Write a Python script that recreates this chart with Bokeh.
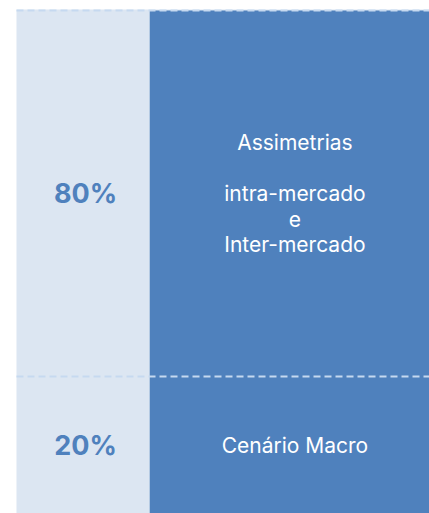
import numpy as np
from bokeh.plotting import figure
from bokeh.models import ColumnDataSource, Range1d, FixedTicker
from bokeh.core.properties import value
from bokeh.embed import file_html
from bokeh.resources import INLINE

# ---- data ----
segments = ["Cenário Macro", "Assimetrias\n\nintra-mercado\ne\nInter-mercado"]
shares = [20, 80]
pct_labels = ["20%", "80%"]

# ---- layout constants ----
Y_START, Y_END = -9.82, 100.22
BAR_X, BAR_W = 2.09, 2.2
PCT_X = 0.518

tops = list(np.cumsum(shares))
bottoms = [Y_START] + tops[:-1]
mids = [(b + t) / 2 for b, t in zip(bottoms, tops)]

src = ColumnDataSource(dict(seg=segments, top=tops, bottom=bottoms, mid=mids,
                            pct=pct_labels))

p = figure(width=429, height=513, output_backend="svg", toolbar_location=None,
           x_range=Range1d(0, 3.1), y_range=Range1d(Y_START, Y_END),
           min_border_left=16, min_border_right=0, min_border_top=9,
           min_border_bottom=0)
p.background_fill_color = "#dce6f2"
p.border_fill_color = "white"
p.outline_line_color = None
p.axis.visible = False
p.xgrid.visible = False

p.vbar(x=BAR_X + 0.01, width=BAR_W, top="top", bottom="bottom", source=src,
       fill_color="#4f81bd", line_color=None)

p.ygrid.ticker = FixedTicker(ticks=tops)
p.ygrid.grid_line_color = "#c6d9f0"
p.ygrid.grid_line_width = 2
p.ygrid.grid_line_dash = "7 4"
p.ygrid.level = "overlay"

p.text(x=BAR_X, y="mid", text="seg", source=src, text_color="white",
       text_font=value("Inter"), text_font_size="21px", text_align="center",
       text_baseline="middle", text_line_height=1.02)
p.text(x=PCT_X, y="mid", text="pct", source=src, text_color="#4f81bd",
       text_font=value("Inter"), text_font_size="27px", text_font_style="bold",
       text_align="center", text_baseline="middle")

open("out.html", "w").write(file_html(p, INLINE))
